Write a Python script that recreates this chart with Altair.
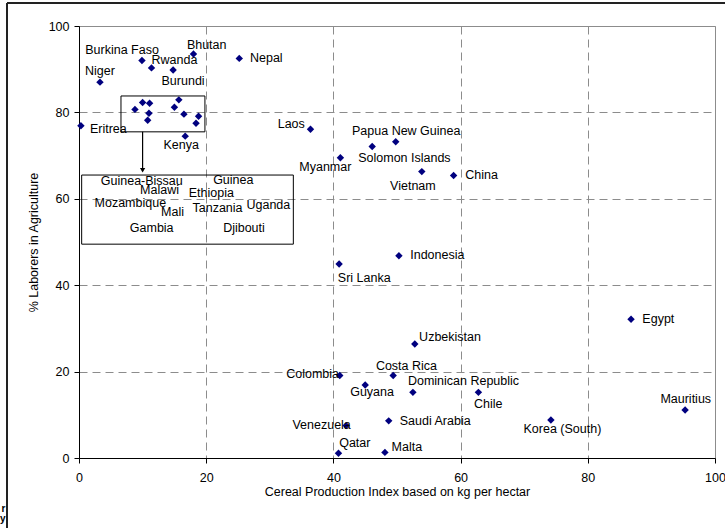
import altair as alt
import pandas as pd

# ---- data -------------------------------------------------------------
countries = [
    "Burkina Faso", "Rwanda", "Bhutan", "Burundi", "Nepal", "Niger", "Eritrea",
    "Kenya", "Laos",
    "Mozambique", "Guinea-Bissau", "Malawi", "Mali", "Gambia",
    "Guinea", "Ethiopia", "Tanzania", "Uganda", "Djibouti",
    "Papua New Guinea", "Solomon Islands", "Myanmar", "Vietnam", "China",
    "Indonesia", "Sri Lanka",
    "Uzbekistan", "Colombia", "Costa Rica", "Guyana", "Dominican Republic",
    "Chile", "Saudi Arabia", "Venezuela", "Qatar", "Malta", "Korea (South)",
    "Egypt", "Mauritius",
]
cereal_index = [
    9.9, 11.4, 18.0, 14.8, 25.2, 3.3, 0.3,
    16.7, 36.4,
    8.8, 10.0, 11.1, 11.0, 10.8,
    15.7, 15.0, 16.5, 18.8, 18.4,
    49.8, 46.1, 41.1, 53.9, 58.9,
    50.3, 40.9,
    52.8, 41.0, 49.4, 45.0, 52.5,
    62.8, 48.7, 42.0, 40.8, 48.1, 74.2,
    86.8, 95.3,
]
labor_share = [
    92.0, 90.3, 93.5, 89.8, 92.5, 87.0, 76.9,
    74.5, 76.1,
    80.7, 82.3, 82.1, 79.8, 78.2,
    82.9, 81.2, 79.6, 79.1, 77.5,
    73.2, 72.1, 69.5, 66.3, 65.4,
    46.8, 44.9,
    26.4, 19.1, 19.1, 16.9, 15.2,
    15.2, 8.6, 7.5, 1.1, 1.3, 8.8,
    32.1, 11.1,
]

# names of the crowded African group, listed in the inset box instead
inset_names = ["Guinea-Bissau", "Malawi", "Guinea", "Ethiopia", "Mozambique",
               "Mali", "Tanzania", "Uganda", "Gambia", "Djibouti"]
inset_label_x = [9.87, 12.66, 24.26, 20.8, 8.07, 14.7, 21.78, 29.77, 11.43, 25.94]
inset_label_y = [63.2, 61.1, 63.4, 60.5, 58.2, 56.1, 56.9, 57.6, 52.25, 52.25]

# zoom box around the group, the inset box and the arrow between them
cluster_box = {"x": 6.6, "x2": 19.8, "y": 83.8, "y2": 75.5}
inset_box = {"x": 0.42, "x2": 33.7, "y": 65.5, "y2": 49.5}
arrow = {"x": 10.0, "y": 75.5, "y2": 66.6}

# label placement beside a marker: (align, dx px, dy px to baseline)
label_place = {
    "Burkina Faso": ("left", -56.7, -6.7),
    "Rwanda": ("left", 0.0, -3.7),
    "Bhutan": ("left", -6.6, -5.3),
    "Nepal": ("left", 10.7, 3.7),
    "Niger": ("left", -15.0, -7.0),
    "Burundi": ("left", -11.6, 15.0),
    "Eritrea": ("left", 9.0, 7.3),
    "Kenya": ("left", -21.7, 12.7),
    "Laos": ("right", -5.7, -1.0),
    "Papua New Guinea": ("left", -43.7, -6.7),
    "Solomon Islands": ("left", -14.0, 15.0),
    "Myanmar": ("right", 11.0, 13.0),
    "Vietnam": ("left", -31.7, 18.3),
    "China": ("left", 11.7, 3.6),
    "Indonesia": ("left", 11.3, 3.3),
    "Sri Lanka": ("left", -1.3, 18.3),
    "Uzbekistan": ("left", 4.3, -3.3),
    "Colombia": ("right", -0.7, 2.7),
    "Costa Rica": ("left", -17.3, -5.7),
    "Guyana": ("left", -15.0, 11.0),
    "Dominican Republic": ("left", -5.0, -7.6),
    "Chile": ("left", -4.4, 15.7),
    "Saudi Arabia": ("left", 11.0, 4.0),
    "Venezuela": ("right", 4.7, 3.6),
    "Qatar": ("left", 0.7, -6.6),
    "Malta": ("left", 6.7, -1.6),
    "Korea (South)": ("left", -27.4, 13.0),
    "Egypt": ("left", 11.3, 4.0),
    "Mauritius": ("right", 26.0, -7.3),
}

# ---- layout -----------------------------------------------------------
W, H = 636, 432
PAD = {"left": 79, "top": 26, "right": 10, "bottom": 70}
X_MAX, Y_MAX = 100, 100
PX_X, PX_Y = W / X_MAX, H / Y_MAX
FONT = "Liberation Sans"
FS = 12.5
NAVY = "#00007f"

points = pd.DataFrame({"country": countries, "x": cereal_index, "y": labor_share})

rows = []
for name, xv, yv in zip(countries, cereal_index, labor_share):
    if name in label_place:
        align, dx, dy = label_place[name]
        rows.append({"label": name, "align": align,
                     "lx": xv + dx / PX_X, "ly": yv - dy / PX_Y})
labels = pd.DataFrame(rows)
inset_labels = pd.DataFrame({"label": inset_names, "lx": inset_label_x, "ly": inset_label_y})

x_scale = alt.Scale(domain=[0, X_MAX], nice=False, zero=False)
y_scale = alt.Scale(domain=[0, Y_MAX], nice=False, zero=False)

x_axis = alt.Axis(
    title="Cereal Production Index based on kg per hectar",
    values=[0, 20, 40, 60, 80, 100], format="d",
    labelFlush=False, labelOverlap=False, labelPadding=8, titlePadding=2,
)
y_axis = alt.Axis(
    title="% Laborers in Agriculture",
    values=[0, 20, 40, 60, 80, 100], format="d",
    labelFlush=False, labelOverlap=False, labelPadding=5, titlePadding=8,
)

base = alt.Chart(points)

markers = base.mark_point(shape="diamond", filled=True, size=55, color=NAVY, opacity=1).encode(
    x=alt.X("x:Q", scale=x_scale, axis=x_axis),
    y=alt.Y("y:Q", scale=y_scale, axis=y_axis),
)

text_layers = []
for align in ["left", "right"]:
    text_layers.append(
        alt.Chart(labels[labels["align"] == align]).mark_text(
            align=align, baseline="alphabetic", font=FONT, fontSize=FS, color="black"
        ).encode(x="lx:Q", y="ly:Q", text="label:N")
    )

inset_text = alt.Chart(inset_labels).mark_text(
    align="center", baseline="alphabetic", font=FONT, fontSize=FS, color="black"
).encode(x="lx:Q", y="ly:Q", text="label:N")

boxes = alt.Chart(pd.DataFrame([cluster_box, inset_box])).mark_rect(
    filled=False, stroke="black", strokeWidth=1
).encode(x="x:Q", x2="x2", y="y:Q", y2="y2")

arrow_line = alt.Chart(pd.DataFrame([arrow])).mark_rule(color="black", strokeWidth=1.2).encode(
    x="x:Q", y="y:Q", y2="y2"
)
arrow_head = alt.Chart(pd.DataFrame([arrow])).mark_point(
    shape="triangle-down", filled=True, size=28, color="black", opacity=1
).encode(x="x:Q", y="y2:Q")

# outer frame of the figure: top and left edges, kept inside the page
one = pd.DataFrame({"k": [0]})
frame_x = -PAD["left"] + 7
frame_y = -PAD["top"] + 3
page_right = W + PAD["right"]
page_bottom = H + PAD["bottom"]
frame_top = alt.Chart(one).mark_rule(color="#222222", strokeWidth=2).encode(
    x=alt.value(frame_x), x2=alt.value(page_right), y=alt.value(frame_y)
)
frame_left = alt.Chart(one).mark_rule(color="#222222", strokeWidth=2).encode(
    x=alt.value(frame_x), y=alt.value(frame_y), y2=alt.value(page_bottom)
)

# clipped fragments of bold text just left of the frame
edge_texts = [
    alt.Chart(one).mark_text(
        align="right", baseline="alphabetic", font=FONT, fontSize=10,
        fontWeight="bold", color="black"
    ).encode(x=alt.value(frame_x - 1.5), y=alt.value(py), text=alt.value(t))
    for t, py in [("r", 486), ("y", 496)]
]

chart = alt.layer(
    boxes, arrow_line, arrow_head, markers,
    *text_layers, inset_text, *edge_texts, frame_top, frame_left
).properties(
    width=W, height=H,
    autosize=alt.AutoSizeParams(type="none"),
    padding=PAD,
    background="white",
).configure_view(
    stroke="#8c8c8c", strokeWidth=1
).configure_axis(
    labelFont=FONT, labelFontSize=FS, labelColor="black",
    titleFont=FONT, titleFontSize=FS, titleFontWeight="normal", titleColor="black",
    domainColor="black", domainWidth=1, tickColor="black", tickSize=5, tickWidth=1,
    grid=True, gridColor="#8c8c8c", gridDash=[8, 5], gridWidth=1,
)

chart.save("out.html", embed_options={"renderer": "svg", "actions": False})
